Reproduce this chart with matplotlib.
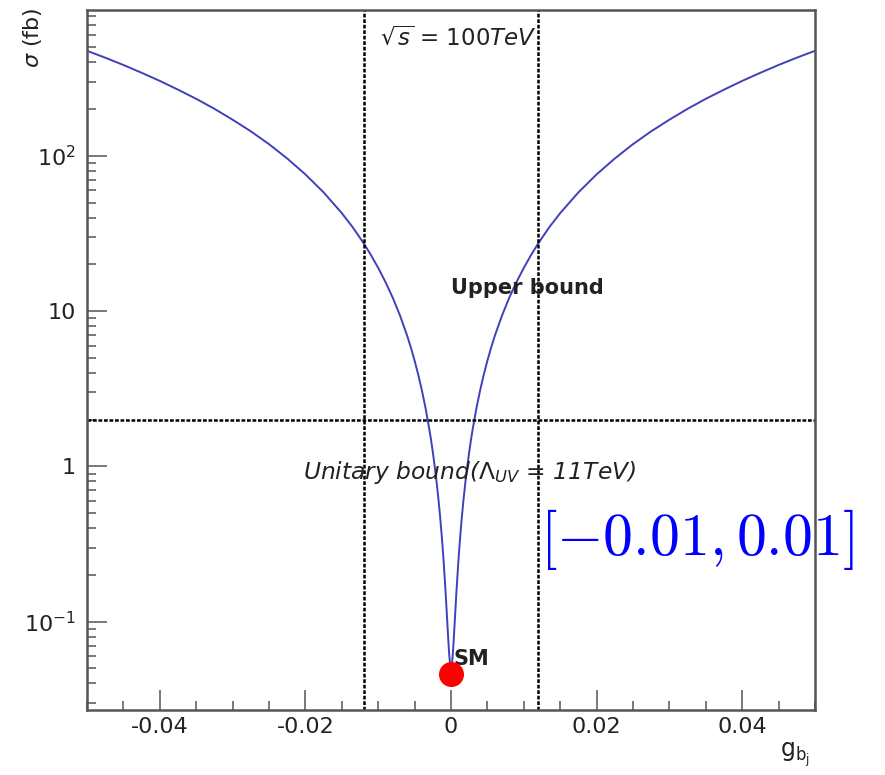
import numpy as np
import matplotlib
matplotlib.use("Agg")
import matplotlib.pyplot as plt
from matplotlib.ticker import FixedLocator, FixedFormatter, LogLocator, MultipleLocator, NullFormatter

plt.rcParams['font.family'] = ['DejaVu Sans']
plt.rcParams['mathtext.fontset'] = 'dejavusans'
plt.rcParams['axes.unicode_minus'] = False

# cross section vs coupling (right half, the curve is symmetric)
g_half = [0.0, 0.000125, 0.00025, 0.000375, 0.0005, 0.00075, 0.001, 0.00125, 0.0015,
          0.00175, 0.002, 0.00225, 0.0025, 0.00275, 0.003, 0.0035, 0.004, 0.0045,
          0.005, 0.0055, 0.006, 0.007, 0.008, 0.009, 0.01, 0.011, 0.012, 0.0135,
          0.015, 0.0175, 0.02, 0.0225, 0.025, 0.0275, 0.03, 0.0325, 0.035, 0.0375,
          0.04, 0.0425, 0.045, 0.0475, 0.05]
sigma_half = [0.05, 0.053, 0.062, 0.0767, 0.0975, 0.157, 0.24, 0.347, 0.478,
              0.632, 0.81, 1.01, 1.24, 1.49, 1.76, 2.38, 3.09, 3.90,
              4.80, 5.80, 6.9, 9.36, 12.2, 15.4, 19.0, 23.0, 27.4, 34.7,
              42.8, 58.2, 76, 96.2, 119, 144, 171, 201, 233, 267,
              304, 343, 385, 429, 475]

g = [-v for v in g_half[:0:-1]] + g_half
sigma = sigma_half[:0:-1] + sigma_half

unitary_g = [-0.012, 0.012]
upper_sigma = 2.0
sm_g = 0.0
sm_sigma = 0.046

ytick_vals = [0.1, 1, 10, 100]
ytick_labels = ['$10^{-1}$', '1', '10', '$10^{2}$']
xtick_vals = [-0.04, -0.02, 0, 0.02, 0.04]
xtick_labels = ['-0.04', '-0.02', '0', '0.02', '0.04']

fig = plt.figure(figsize=(8.85, 7.75), dpi=100)
ax = fig.add_axes([87/885, 1 - 710/775, (815-87)/885, (710-10)/775])

ax.plot(g, sigma, color='#4040b8', lw=1.4)
for xv in unitary_g:
    ax.axvline(xv, color='black', lw=1.8, linestyle=(0, (1.5, 0.7)))
ax.axhline(upper_sigma, color='black', lw=1.8, linestyle=(0, (1.5, 0.7)))
ax.plot([sm_g], [sm_sigma], 'o', color='red', markersize=17, zorder=5)

ax.set_yscale('log')
ax.set_xlim(-0.05, 0.05)
ax.set_ylim(0.027, 870)

ax.yaxis.set_major_locator(FixedLocator(ytick_vals))
ax.yaxis.set_major_formatter(FixedFormatter(ytick_labels))
ax.yaxis.set_minor_locator(LogLocator(base=10, subs=np.arange(2, 10)))
ax.yaxis.set_minor_formatter(NullFormatter())
ax.xaxis.set_major_locator(FixedLocator(xtick_vals))
ax.xaxis.set_major_formatter(FixedFormatter(xtick_labels))
ax.xaxis.set_minor_locator(MultipleLocator(0.005))

ax.tick_params(which='both', direction='in', color='#555555', width=1.1,
               top=False, right=False, labelsize=16, labelcolor='#222222')
ax.tick_params(which='major', length=14.5)
ax.tick_params(which='minor', length=6.5)
ax.tick_params(axis='x', pad=5)
ax.tick_params(axis='y', pad=8)
for sp in ax.spines.values():
    sp.set_color('#555555')
    sp.set_linewidth(1.8)

ax.text(-0.0097, 575, r'$\sqrt{s}$ = 100$\mathit{TeV}$', fontsize=16.5, ha='left', va='center',
        color='#222222')
ax.text(0.0, 14, 'Upper bound', fontsize=15, fontweight='bold', ha='left', va='center',
        color='#222222')
ax.text(-0.0203, 0.915, r'Unitary bound($\mathit{\Lambda}_{UV}$ = 11TeV)', fontsize=16.8,
        style='italic', ha='left', va='center', color='#222222')
ax.text(0.0003, 0.0574, 'SM', fontsize=15, fontweight='bold', ha='left', va='center',
        color='#222222')
ax.text(0.0122, 0.34, r'$[-0.01, 0.01]$', fontsize=43, color='blue', ha='left', va='center',
        math_fontfamily='cm')

fig.text(32/885, 1 - 7/775, r'$\sigma$ (fb)', rotation=90, fontsize=16, ha='center', va='top',
         color='#222222')
fig.text(810/885, 1 - 740/775, r'$\mathrm{g}_{\mathrm{b}_{\mathrm{j}}}$', fontsize=17, ha='right', va='top',
         color='#222222')

fig.savefig('out.png', dpi=100)
